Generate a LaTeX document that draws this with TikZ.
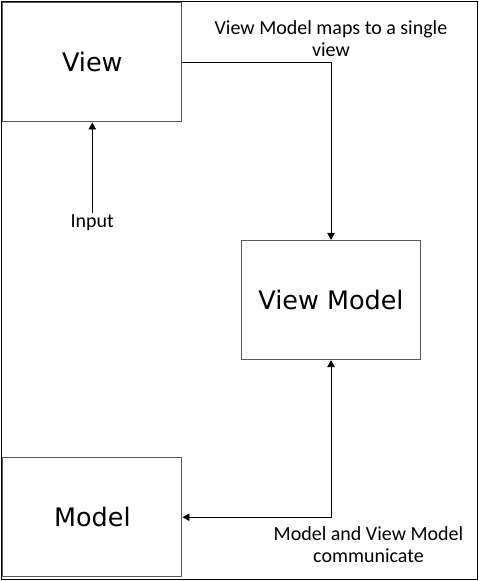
\documentclass[tikz,border=0pt]{standalone}
\usepackage{fontspec}
\setmainfont{Carlito}
\newfontfamily\boxfont{DejaVu Sans}
\usetikzlibrary{arrows.meta}
\tikzset{
    block/.style =  {rectangle,
                    fill=white,
                    draw=black!65,
                    text=black,
                    line width=1pt,
                    minimum width=179.3pt,
                    minimum height=119.3pt,
                    font=\boxfont\fontsize{25.5}{30}\selectfont},
    note/.style =   {align=center,
                    inner sep=1pt,
                    text=black,
                    font=\fontsize{20}{22}\selectfont},
    link/.style =   {draw=black,
                    line width=0.9pt},
    >={Triangle[length=7pt,width=7.5pt]}}

\begin{document}
\begin{tikzpicture}[x=1pt,y=-1pt]
                \useasboundingbox (0,0) rectangle (479,581);
                \draw[line width=1pt] (1,1) rectangle (477.5,579);
                \node[block]    (V)    at (92.3,62.3)   {View};
                \node[block]    (VM)   at (331,300)     {View Model};
                \node[block]    (M)    at (92.3,517.2)  {Model};
                \node[note]     (In)   at (92.3,222.7)  {Input};
                \node[note]     (Tmap) at (331,39)      {View Model maps to a single\\view};
                \node[note]     (Tcom) at (368.5,545)   {Model and View Model\\communicate};
                \path [link,->]     (In) edge []    (V);
                \draw [link,->]     (V) -| (VM);
                \draw [link,<->]    (M) -| (VM);
        \end{tikzpicture}
\end{document}
